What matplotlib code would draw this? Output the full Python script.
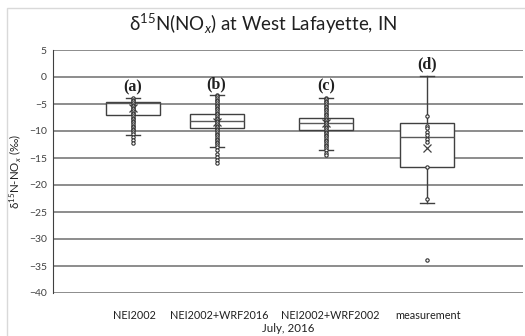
import matplotlib
matplotlib.use("Agg")
import matplotlib.pyplot as plt
from matplotlib.patches import Rectangle

# box statistics (permil)
categories = ["NEI2002", "NEI2002+WRF2016", "NEI2002+WRF2002", "measurement"]
letters = ["(a)", "(b)", "(c)", "(d)"]
q1 = [-7.0, -9.4, -9.9, -16.7]
med = [-4.8, -8.2, -8.45, -11.2]
q3 = [-4.6, -6.9, -7.5, -8.6]
whislo = [-10.7, -13.0, -13.6, -23.3]
whishi = [-3.9, -3.3, -3.8, 0.25]
means = [-5.8, -8.4, -8.5, -13.2]

# individual points (inner points + outliers)
pts_a = [-3.9, -4.2, -4.5, -4.8, -5.1, -5.4, -5.7, -6.0, -6.3, -6.6, -6.9,
         -7.2, -7.5, -7.8, -8.1, -8.4, -8.7, -9.0, -9.3, -9.6, -9.9, -10.2,
         -10.5, -11.2, -11.7, -12.2]
pts_b = [-3.3, -3.6, -3.9, -4.2, -4.5, -4.8, -5.1, -5.4, -5.7, -6.0, -6.3,
         -6.6, -6.9, -7.2, -7.5, -7.8, -8.1, -8.4, -8.7, -9.0, -9.3, -9.6,
         -9.9, -10.2, -10.5, -10.8, -11.1, -11.4, -11.7, -12.0, -12.3,
         -12.6, -13.0, -13.5, -14.3, -14.8, -15.4, -15.9]
pts_c = [-3.8, -4.1, -4.4, -4.7, -5.0, -5.3, -5.6, -5.9, -6.2, -6.5, -6.8,
         -7.1, -7.4, -7.7, -8.0, -8.3, -8.6, -8.9, -9.2, -9.5, -9.8, -10.1,
         -10.4, -10.7, -11.0, -11.3, -11.6, -11.9, -12.2, -12.5, -12.8,
         -13.1, -13.6, -14.1, -14.5]
pts_d = [-7.2, -9.0, -9.5, -10.1, -10.7, -11.5, -12.1, -16.7, -22.6, -33.9]
points = [pts_a, pts_b, pts_c, pts_d]

# layout (axes fraction of the x range)
positions = [0.170, 0.348, 0.581, 0.796]
label_pos = [0.174, 0.353, 0.589, 0.798]
box_w = 0.115
cap_w = 0.03

plt.rcParams["font.family"] = ["Lato", "DejaVu Sans"]
plt.rcParams["mathtext.fontset"] = "custom"
plt.rcParams["mathtext.rm"] = "Lato"
plt.rcParams["mathtext.it"] = "Lato:italic"

fig = plt.figure(figsize=(5.25, 3.36), dpi=100)
fig.patches.append(Rectangle((7 / 525, -0.1), 1.2, 1 - 8 / 336 + 0.1,
                             transform=fig.transFigure, fill=False,
                             edgecolor="#d9d9d9", lw=1.0))
ax = fig.add_axes([53 / 525, 1 - 293 / 336, 470 / 525, 243 / 336])

stats = []
for i in range(len(categories)):
    stats.append(dict(q1=q1[i], med=med[i], q3=q3[i], whislo=whislo[i],
                      whishi=whishi[i], mean=means[i], fliers=[]))

ax.bxp(stats, positions=positions, widths=box_w, capwidths=cap_w,
       showmeans=True, showfliers=False, patch_artist=True,
       boxprops=dict(facecolor="white", edgecolor="#404040", lw=1.0),
       medianprops=dict(color="#595959", lw=1.0),
       whiskerprops=dict(color="#404040", lw=1.0),
       capprops=dict(color="#404040", lw=1.0),
       meanprops=dict(marker="x", markeredgecolor="#404040", markersize=5.5,
                      markeredgewidth=0.9), zorder=3)

for pos, vals in zip(positions, points):
    ax.plot([pos] * len(vals), vals, ls="none", marker="o", markersize=2.4,
            markerfacecolor="white", markeredgecolor="#303030",
            markeredgewidth=0.8, zorder=4)

for pos, top, lab in zip(positions, whishi, letters):
    ax.annotate(lab, (pos, top), xytext=(0, 2.0), textcoords="offset points",
                ha="center", va="bottom", fontsize=11.5, fontweight="bold",
                family="Liberation Serif", color="#202020")

ax.set_xlim(0, 1)
ax.set_ylim(-40, 5)
ax.set_yticks(range(-40, 6, 5))
ax.yaxis.grid(True, color="#6e6e6e", lw=1.1)
ax.set_axisbelow(True)
for s in ["top", "right", "bottom"]:
    ax.spines[s].set_visible(False)
ax.spines["left"].set_color("#404040")
ax.tick_params(axis="y", length=0, pad=4.5, labelsize=7.5, labelcolor="#404040")
ax.set_xticks(label_pos)
ax.set_xticklabels(categories, fontsize=7.8, color="#202020")
ax.tick_params(axis="x", length=0, pad=12)
ax.set_xlabel("July, 2016", fontsize=8.3, color="#202020", labelpad=2)
ax.set_ylabel("δ$^{15}$N-NO$_{x}$ (‰)", fontsize=8.3, color="#202020",
              labelpad=4)

fig.text(0.5, 1 - 24 / 336, "δ$^{15}$N(NO$_{x}$) at West Lafayette, IN",
         ha="center", va="center", fontsize=13.5, color="#202020")

fig.savefig("out.png", dpi=100)
